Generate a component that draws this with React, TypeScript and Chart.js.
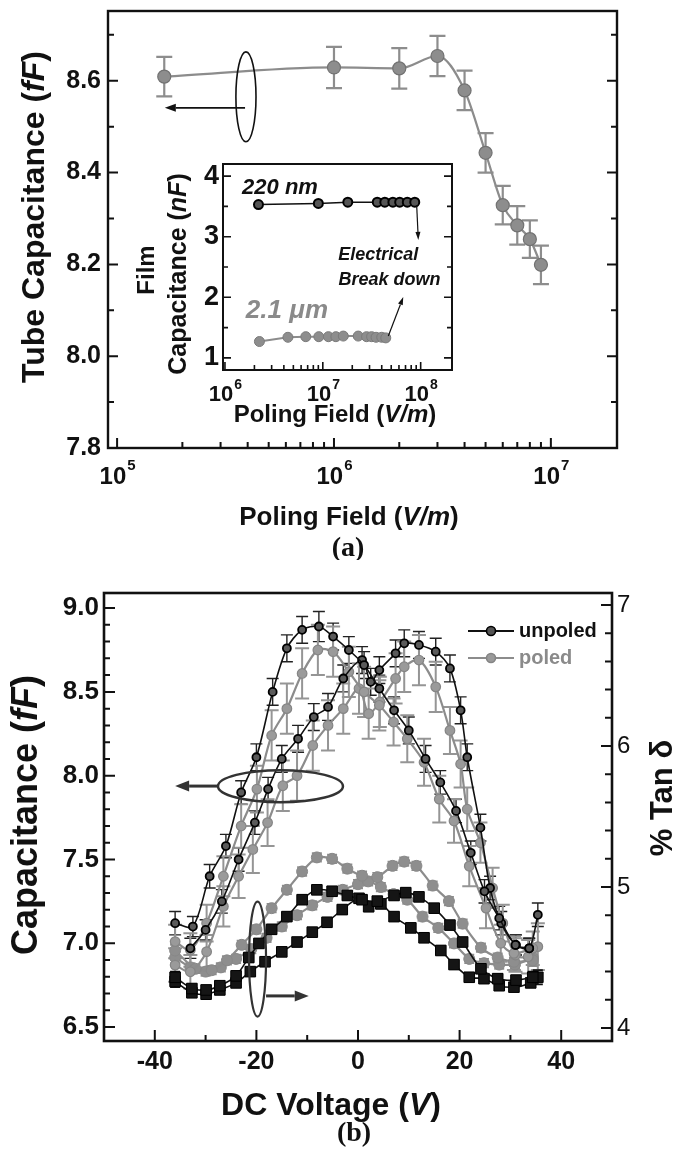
import React, { useEffect, useRef } from 'react';
import { Chart, registerables } from 'chart.js';

Chart.register(...registerables);

const SANS = "'Liberation Sans', Arial, Helvetica, sans-serif";
const SERIF = "'Liberation Serif', 'Times New Roman', Times, serif";
const INK = '#111111';
const GREY = '#8c8c8c';

// ================= Panel (a): tube capacitance vs poling field =================
const A_FIELD = [1.65e5, 1.0e6, 2.0e6, 3.0e6, 4.0e6, 5.0e6, 6.0e6, 7.0e6, 8.0e6, 9.0e6];
const A_CAP = [8.609, 8.629, 8.627, 8.654, 8.579, 8.443, 8.329, 8.285, 8.255, 8.199];
const A_ERR = [0.043, 0.045, 0.044, 0.044, 0.043, 0.043, 0.042, 0.042, 0.041, 0.042];
const A_Y_TICKS = [7.8, 8.0, 8.2, 8.4, 8.6];
const A_Y_LABELS = ['7.8', '8.0', '8.2', '8.4', '8.6'];
const A_Y_MINOR = [7.9, 8.1, 8.3, 8.5, 8.7];
const A_X_TICKS = [1e5, 1e6, 1e7];
const A_X_EXP = ['5', '6', '7'];
const A_X_MINOR = [2e5, 3e5, 4e5, 5e5, 6e5, 7e5, 8e5, 9e5, 2e6, 3e6, 4e6, 5e6, 6e6, 7e6, 8e6, 9e6];

// ================= Inset of (a): film capacitance =================
const IN_FIELD_220 = [2.2e6, 9.0e6, 1.8e7, 3.6e7, 4.3e7, 5.2e7, 6.1e7, 7.3e7, 8.7e7];
const IN_CAP_220 = [3.53, 3.55, 3.57, 3.57, 3.57, 3.57, 3.57, 3.57, 3.57];
const IN_FIELD_21 = [2.25e6, 4.4e6, 6.7e6, 9.1e6, 1.14e7, 1.36e7, 1.62e7, 2.3e7, 2.8e7, 3.15e7, 3.5e7, 4.0e7, 4.4e7];
const IN_CAP_21 = [1.27, 1.34, 1.35, 1.35, 1.35, 1.35, 1.36, 1.36, 1.35, 1.35, 1.34, 1.34, 1.33];
const IN_Y_TICKS = [1, 2, 3, 4];
const IN_Y_LABELS = ['1', '2', '3', '4'];
const IN_Y_MINOR = [1.5, 2.5, 3.5];
const IN_X_TICKS = [1e6, 1e7, 1e8];
const IN_X_EXP = ['6', '7', '8'];
const IN_X_MINOR = [2e6, 3e6, 4e6, 5e6, 6e6, 7e6, 8e6, 9e6, 2e7, 3e7, 4e7, 5e7, 6e7, 7e7, 8e7, 9e7];

// ================= Panel (b): C–V and tan δ =================
// capacitance, unpoled (two sweep branches)
const B_V_U1 = [-36.0, -32.5, -29.2, -26.0, -23.0, -20.0, -16.8, -14.0, -11.0, -7.7, -4.9, -1.8, 1.2, 4.2, 7.1, 10.0, 13.3, 16.2, 19.3, 22.2, 24.9, 27.8, 31.0, 33.7];
const B_C_U1 = [7.12, 7.10, 7.40, 7.58, 7.90, 8.11, 8.50, 8.76, 8.87, 8.89, 8.83, 8.75, 8.66, 8.52, 8.39, 8.27, 8.10, 7.96, 7.79, 7.54, 7.31, 7.15, 6.99, 6.97];
const B_E_U1 = [0.07, 0.06, 0.07, 0.07, 0.07, 0.08, 0.08, 0.08, 0.08, 0.09, 0.08, 0.08, 0.08, 0.08, 0.08, 0.08, 0.08, 0.07, 0.07, 0.07, 0.07, 0.07, 0.06, 0.06];
const B_V_U2 = [-33.0, -30.0, -26.8, -23.5, -20.3, -17.7, -15.0, -11.8, -8.7, -5.9, -2.9, 0.8, 2.5, 4.2, 7.4, 9.1, 12.0, 15.3, 18.1, 20.2, 21.5, 24.1, 26.0, 28.2, 31.1, 33.7, 35.4];
const B_C_U2 = [6.97, 7.08, 7.25, 7.50, 7.72, 7.92, 8.10, 8.22, 8.35, 8.41, 8.58, 8.69, 8.56, 8.63, 8.73, 8.79, 8.78, 8.74, 8.64, 8.39, 8.11, 7.69, 7.33, 7.12, 6.99, 6.97, 7.17];
const B_E_U2 = [0.06, 0.06, 0.07, 0.07, 0.07, 0.07, 0.08, 0.08, 0.08, 0.08, 0.08, 0.08, 0.08, 0.08, 0.08, 0.08, 0.08, 0.08, 0.08, 0.08, 0.08, 0.08, 0.07, 0.07, 0.06, 0.06, 0.07];
// capacitance, poled
const B_V_P1 = [-36.0, -33.0, -29.8, -26.5, -23.0, -19.9, -17.0, -14.0, -11.0, -7.9, -4.9, -1.8, 1.2, 4.2, 7.0, 9.7, 13.0, 16.0, 18.9, 21.9, 25.2, 28.1, 30.7, 34.4];
const B_C_P1 = [7.01, 6.96, 7.12, 7.40, 7.70, 7.92, 8.24, 8.40, 8.61, 8.75, 8.74, 8.62, 8.50, 8.42, 8.32, 8.22, 8.08, 7.86, 7.73, 7.46, 7.21, 7.00, 6.94, 6.97];
const B_E_P1 = [0.10, 0.10, 0.11, 0.12, 0.13, 0.14, 0.15, 0.15, 0.15, 0.15, 0.15, 0.15, 0.15, 0.15, 0.14, 0.14, 0.14, 0.14, 0.13, 0.12, 0.12, 0.11, 0.10, 0.10];
const B_V_P2 = [-36.0, -33.0, -29.8, -26.5, -23.5, -20.7, -17.8, -14.8, -12.0, -8.9, -5.9, -2.9, 0.2, 2.1, 4.3, 7.4, 9.1, 12.0, 15.3, 18.1, 20.2, 21.5, 24.1, 26.5, 28.5, 31.0, 33.5, 35.4];
const B_C_P2 = [6.87, 6.83, 6.95, 7.22, 7.40, 7.56, 7.72, 7.94, 8.00, 8.18, 8.30, 8.40, 8.52, 8.37, 8.44, 8.58, 8.65, 8.69, 8.53, 8.27, 8.07, 7.80, 7.60, 7.33, 7.12, 6.93, 6.92, 6.98];
const B_E_P2 = [0.10, 0.10, 0.10, 0.12, 0.13, 0.14, 0.14, 0.15, 0.15, 0.15, 0.15, 0.15, 0.15, 0.15, 0.15, 0.15, 0.15, 0.15, 0.15, 0.14, 0.14, 0.13, 0.12, 0.12, 0.11, 0.10, 0.10, 0.14];
// % tan delta, unpoled
const B_V_TU1 = [-36.0, -32.7, -29.9, -27.2, -24.0, -21.5, -19.5, -17.0, -14.0, -11.0, -8.1, -5.1, -2.1, 0.8, 3.8, 7.1, 9.4, 12.0, 15.0, 18.1, 20.6, 24.2, 27.5, 31.1, 34.4];
const B_T_TU1 = [4.36, 4.28, 4.27, 4.30, 4.37, 4.50, 4.60, 4.70, 4.79, 4.91, 4.98, 4.97, 4.94, 4.91, 4.90, 4.94, 4.96, 4.93, 4.85, 4.73, 4.61, 4.42, 4.35, 4.34, 4.36];
const B_E_TU1 = [0.04, 0.03, 0.03, 0.03, 0.03, 0.03, 0.03, 0.03, 0.03, 0.03, 0.03, 0.03, 0.03, 0.03, 0.03, 0.03, 0.03, 0.03, 0.03, 0.03, 0.03, 0.03, 0.03, 0.03, 0.04];
const B_V_TU2 = [-36.0, -32.7, -29.9, -27.2, -24.0, -21.2, -18.3, -15.0, -12.0, -9.0, -6.1, -3.1, 0.2, 2.1, 4.5, 7.1, 10.4, 13.0, 16.3, 18.9, 21.9, 24.8, 27.8, 30.7, 34.0, 35.4];
const B_T_TU2 = [4.33, 4.25, 4.24, 4.27, 4.32, 4.40, 4.47, 4.54, 4.61, 4.68, 4.75, 4.84, 4.92, 4.86, 4.88, 4.79, 4.71, 4.64, 4.55, 4.45, 4.36, 4.35, 4.30, 4.29, 4.32, 4.36];
const B_E_TU2 = [0.04, 0.03, 0.03, 0.03, 0.03, 0.03, 0.03, 0.03, 0.03, 0.03, 0.03, 0.03, 0.03, 0.03, 0.03, 0.03, 0.03, 0.03, 0.03, 0.03, 0.03, 0.03, 0.03, 0.03, 0.03, 0.05];
// % tan delta, poled
const B_V_TP1 = [-36.0, -32.0, -28.8, -25.8, -22.9, -20.0, -17.0, -14.0, -11.0, -8.1, -5.1, -2.1, 0.8, 3.8, 6.8, 9.1, 11.5, 14.7, 17.9, 20.6, 24.2, 27.5, 30.7, 34.4];
const B_T_TP1 = [4.55, 4.42, 4.41, 4.48, 4.59, 4.70, 4.85, 4.98, 5.11, 5.21, 5.20, 5.13, 5.08, 5.07, 5.15, 5.18, 5.15, 5.01, 4.90, 4.74, 4.57, 4.50, 4.47, 4.48];
const B_E_TP1 = [0.04, 0.03, 0.03, 0.03, 0.03, 0.03, 0.03, 0.03, 0.03, 0.03, 0.03, 0.03, 0.03, 0.03, 0.03, 0.03, 0.03, 0.03, 0.03, 0.03, 0.03, 0.03, 0.03, 0.04];
const B_V_TP2 = [-36.0, -33.0, -30.0, -27.0, -24.0, -21.0, -18.0, -15.0, -12.0, -9.0, -6.0, -3.0, 0.0, 2.0, 4.5, 7.0, 9.7, 12.7, 15.8, 18.9, 21.9, 24.8, 27.8, 30.9, 34.4];
const B_T_TP2 = [4.50, 4.43, 4.40, 4.43, 4.49, 4.56, 4.64, 4.72, 4.80, 4.87, 4.93, 4.98, 5.02, 5.04, 5.00, 4.95, 4.91, 4.79, 4.71, 4.60, 4.49, 4.46, 4.45, 4.45, 4.50];
const B_E_TP2 = [0.04, 0.03, 0.03, 0.03, 0.03, 0.03, 0.03, 0.03, 0.03, 0.03, 0.03, 0.03, 0.03, 0.03, 0.03, 0.03, 0.03, 0.03, 0.03, 0.03, 0.03, 0.03, 0.03, 0.03, 0.04];

const B_X_TICKS = [-40, -20, 0, 20, 40];
const B_X_LABELS = ['-40', '-20', '0', '20', '40'];
const B_X_MINOR = [-30, -10, 10, 30];
const B_Y_TICKS = [6.5, 7.0, 7.5, 8.0, 8.5, 9.0];
const B_Y_LABELS = ['6.5', '7.0', '7.5', '8.0', '8.5', '9.0'];
const B_Y_MINOR = [6.6, 6.7, 6.8, 6.9, 7.1, 7.2, 7.3, 7.4, 7.6, 7.7, 7.8, 7.9, 8.1, 8.2, 8.3, 8.4, 8.6, 8.7, 8.8, 8.9];
const B_Y2_TICKS = [4, 5, 6, 7];
const B_Y2_LABELS = ['4', '5', '6', '7'];
const B_Y2_MINOR = [4.2, 4.4, 4.6, 4.8, 5.2, 5.4, 5.6, 5.8, 6.2, 6.4, 6.6, 6.8];
const B_SERIES_NAMES = ['unpoled', 'poled'];

// ================= drawing helpers =================
type Seg = { t: string; i?: boolean };

function drawRich(ctx: any, segs: Seg[], x: number, y: number, size: number, opt: any = {}) {
  const weight = opt.weight ?? 'bold';
  const fam = opt.family ?? SANS;
  ctx.save();
  ctx.translate(x, y);
  if (opt.rot) ctx.rotate(opt.rot);
  ctx.fillStyle = opt.color ?? INK;
  ctx.textBaseline = 'middle';
  ctx.textAlign = 'left';
  const fonts = segs.map((s) => `${s.i || opt.italic ? 'italic ' : ''}${weight} ${size}px ${fam}`);
  const ws = segs.map((s, k) => {
    ctx.font = fonts[k];
    return ctx.measureText(s.t).width;
  });
  const total = ws.reduce((p, c) => p + c, 0);
  let cx = opt.align === 'left' ? 0 : opt.align === 'right' ? -total : -total / 2;
  segs.forEach((s, k) => {
    ctx.font = fonts[k];
    ctx.fillText(s.t, cx, 0);
    cx += ws[k];
  });
  ctx.restore();
}

function drawPow(ctx: any, x: number, y: number, exp: string, size: number, sup: number) {
  ctx.save();
  ctx.fillStyle = INK;
  ctx.textBaseline = 'middle';
  ctx.textAlign = 'left';
  ctx.font = `bold ${size}px ${SANS}`;
  const w1 = ctx.measureText('10').width;
  ctx.font = `bold ${sup}px ${SANS}`;
  const w2 = ctx.measureText(exp).width;
  const left = x - (w1 + w2) / 2;
  ctx.font = `bold ${size}px ${SANS}`;
  ctx.fillText('10', left, y);
  ctx.font = `bold ${sup}px ${SANS}`;
  ctx.fillText(exp, left + w1 + 1, y - size * 0.45);
  ctx.restore();
}

function drawFrame(ctx: any, a: any, lw: number) {
  ctx.save();
  ctx.strokeStyle = INK;
  ctx.lineWidth = lw;
  ctx.strokeRect(a.left, a.top, a.right - a.left, a.bottom - a.top);
  ctx.restore();
}

function drawTicks(ctx: any, a: any, scale: any, side: string, values: number[], len: number, lw: number) {
  ctx.save();
  ctx.strokeStyle = INK;
  ctx.lineWidth = lw;
  ctx.beginPath();
  values.forEach((v) => {
    const p = scale.getPixelForValue(v);
    if (side === 'left') { ctx.moveTo(a.left, p); ctx.lineTo(a.left + len, p); }
    if (side === 'right') { ctx.moveTo(a.right, p); ctx.lineTo(a.right - len, p); }
    if (side === 'bottom') { ctx.moveTo(p, a.bottom); ctx.lineTo(p, a.bottom - len); }
  });
  ctx.stroke();
  ctx.restore();
}

function drawArrow(ctx: any, x1: number, y1: number, x2: number, y2: number, lw: number, hl: number, hw: number, color: string) {
  const ang = Math.atan2(y2 - y1, x2 - x1);
  const bx = x2 - Math.cos(ang) * hl;
  const by = y2 - Math.sin(ang) * hl;
  ctx.save();
  ctx.strokeStyle = color;
  ctx.fillStyle = color;
  ctx.lineWidth = lw;
  ctx.beginPath();
  ctx.moveTo(x1, y1);
  ctx.lineTo(bx, by);
  ctx.stroke();
  ctx.beginPath();
  ctx.moveTo(x2, y2);
  ctx.lineTo(bx + (Math.sin(ang) * hw) / 2, by - (Math.cos(ang) * hw) / 2);
  ctx.lineTo(bx - (Math.sin(ang) * hw) / 2, by + (Math.cos(ang) * hw) / 2);
  ctx.closePath();
  ctx.fill();
  ctx.restore();
}

function drawEllipse(ctx: any, x1: number, x2: number, y1: number, y2: number, lw: number, color: string) {
  ctx.save();
  ctx.strokeStyle = color;
  ctx.lineWidth = lw;
  ctx.beginPath();
  ctx.ellipse((x1 + x2) / 2, (y1 + y2) / 2, Math.abs(x2 - x1) / 2, Math.abs(y2 - y1) / 2, 0, 0, Math.PI * 2);
  ctx.stroke();
  ctx.restore();
}

const errorBarPlugin = {
  id: 'errorBars',
  beforeDatasetsDraw(chart: any) {
    const ctx = chart.ctx;
    chart.data.datasets.forEach((ds: any, i: number) => {
      if (!ds.errorBars) return;
      const meta = chart.getDatasetMeta(i);
      const xs = chart.scales[meta.xAxisID];
      const ys = chart.scales[meta.yAxisID];
      ctx.save();
      ctx.strokeStyle = ds.errColor;
      ctx.lineWidth = ds.errWidth;
      ctx.beginPath();
      ds.data.forEach((pt: any, k: number) => {
        const e = ds.errorBars[k];
        const x = xs.getPixelForValue(pt.x);
        const y1 = ys.getPixelForValue(pt.y - e);
        const y2 = ys.getPixelForValue(pt.y + e);
        const c = ds.errCap;
        ctx.moveTo(x, y1); ctx.lineTo(x, y2);
        ctx.moveTo(x - c, y1); ctx.lineTo(x + c, y1);
        ctx.moveTo(x - c, y2); ctx.lineTo(x + c, y2);
      });
      ctx.stroke();
      ctx.restore();
    });
  },
};

const pts = (xs: number[], ys: number[]) => xs.map((x, i) => ({ x, y: ys[i] }));

// ================= chart configs =================
const decorA = {
  id: 'decorA',
  afterDraw(chart: any) {
    const ctx = chart.ctx;
    const a = chart.chartArea;
    const xs = chart.scales.x;
    const ys = chart.scales.y;
    drawFrame(ctx, a, 2.4);
    drawTicks(ctx, a, ys, 'left', A_Y_TICKS, 10, 2);
    drawTicks(ctx, a, ys, 'left', A_Y_MINOR, 6, 2);
    drawTicks(ctx, a, ys, 'right', A_Y_TICKS, 10, 2);
    drawTicks(ctx, a, ys, 'right', A_Y_MINOR, 6, 2);
    drawTicks(ctx, a, xs, 'bottom', A_X_TICKS, 10, 2);
    drawTicks(ctx, a, xs, 'bottom', A_X_MINOR, 6, 2);
    A_Y_TICKS.forEach((v, i) => drawRich(ctx, [{ t: A_Y_LABELS[i] }], a.left - 7, ys.getPixelForValue(v), 25, { align: 'right' }));
    A_X_TICKS.forEach((v, i) => drawPow(ctx, xs.getPixelForValue(v), a.bottom + 29, A_X_EXP[i], 24, 15));
    drawRich(ctx, [{ t: 'Tube Capacitance (' }, { t: 'fF', i: true }, { t: ')' }], 35, 217, 32, { rot: -Math.PI / 2 });
    drawRich(ctx, [{ t: 'Poling Field (' }, { t: 'V/m', i: true }, { t: ')' }], 349, a.bottom + 70, 26);
    // ellipse + arrow pointing to left axis
    drawEllipse(ctx, xs.getPixelForValue(3.53e5), xs.getPixelForValue(4.37e5), ys.getPixelForValue(8.663), ys.getPixelForValue(8.467), 1.6, INK);
    drawArrow(ctx, xs.getPixelForValue(3.89e5), ys.getPixelForValue(8.541), xs.getPixelForValue(1.66e5), ys.getPixelForValue(8.541), 1.6, 11, 8, INK);
    drawRich(ctx, [{ t: '(a)' }], 348, 549, 28, { family: SERIF });
  },
};

function makeA(): any {
  return {
    type: 'line',
    data: {
      datasets: [
        {
          data: pts(A_FIELD, A_CAP),
          borderColor: GREY,
          borderWidth: 2.2,
          pointRadius: 6.5,
          pointBackgroundColor: '#8d8d8d',
          pointBorderColor: '#727272',
          pointBorderWidth: 1.2,
          cubicInterpolationMode: 'monotone',
          errorBars: A_ERR,
          errColor: '#8d8d8d',
          errWidth: 2.2,
          errCap: 8,
        },
      ],
    },
    options: {
      responsive: false,
      maintainAspectRatio: false,
      animation: false,
      events: [],
      layout: { padding: { left: 108, right: 60, top: 11, bottom: 112 } },
      plugins: { legend: { display: false }, tooltip: { enabled: false } },
      scales: {
        x: { type: 'logarithmic', min: 9.08e4, max: 2.018e7, bounds: 'data', display: false },
        y: { type: 'linear', min: 7.8, max: 8.752, bounds: 'data', display: false },
      },
    },
    plugins: [errorBarPlugin, decorA],
  };
}

const decorInset = {
  id: 'decorInset',
  afterDraw(chart: any) {
    const ctx = chart.ctx;
    const a = chart.chartArea;
    const xs = chart.scales.x;
    const ys = chart.scales.y;
    drawFrame(ctx, a, 2);
    drawTicks(ctx, a, ys, 'left', IN_Y_TICKS, 8, 1.6);
    drawTicks(ctx, a, ys, 'left', IN_Y_MINOR, 5, 1.6);
    drawTicks(ctx, a, ys, 'right', IN_Y_TICKS, 8, 1.6);
    drawTicks(ctx, a, ys, 'right', IN_Y_MINOR, 5, 1.6);
    drawTicks(ctx, a, xs, 'bottom', IN_X_TICKS, 8, 1.6);
    drawTicks(ctx, a, xs, 'bottom', IN_X_MINOR, 5, 1.6);
    IN_Y_TICKS.forEach((v, i) => drawRich(ctx, [{ t: IN_Y_LABELS[i] }], a.left - 4, ys.getPixelForValue(v), 27, { align: 'right' }));
    IN_X_TICKS.forEach((v, i) => drawPow(ctx, xs.getPixelForValue(v), a.bottom + 25, IN_X_EXP[i], 22, 14));
    drawRich(ctx, [{ t: 'Film' }], 17, 120, 24, { rot: -Math.PI / 2 });
    drawRich(ctx, [{ t: 'Capacitance (' }, { t: 'nF', i: true }, { t: ')' }], 49, 124, 25, { rot: -Math.PI / 2 });
    drawRich(ctx, [{ t: 'Poling Field (' }, { t: 'V/m', i: true }, { t: ')' }], 205, a.bottom + 45, 24);
    drawRich(ctx, [{ t: '220 nm' }], xs.getPixelForValue(3.65e6), ys.getPixelForValue(3.804), 22, { italic: true });
    drawRich(ctx, [{ t: '2.1 μm' }], xs.getPixelForValue(4.3e6), ys.getPixelForValue(1.774), 26, { italic: true, color: '#8a8a8a' });
    drawRich(ctx, [{ t: 'Electrical' }], xs.getPixelForValue(3.69e7), ys.getPixelForValue(2.698), 18, { italic: true });
    drawRich(ctx, [{ t: 'Break down' }], xs.getPixelForValue(4.8e7), ys.getPixelForValue(2.285), 18, { italic: true });
    drawArrow(ctx, xs.getPixelForValue(9.1e7), ys.getPixelForValue(3.523), xs.getPixelForValue(9.46e7), ys.getPixelForValue(2.946), 1.2, 8, 5, INK);
    drawArrow(ctx, xs.getPixelForValue(4.67e7), ys.getPixelForValue(1.361), xs.getPixelForValue(6.64e7), ys.getPixelForValue(2.005), 1.2, 8, 5, INK);
  },
};

function makeInset(): any {
  return {
    type: 'line',
    data: {
      datasets: [
        {
          data: pts(IN_FIELD_220, IN_CAP_220),
          borderColor: INK,
          borderWidth: 1.5,
          pointRadius: 4.5,
          pointBackgroundColor: '#555555',
          pointBorderColor: '#000000',
          pointBorderWidth: 2,
          tension: 0,
        },
        {
          data: pts(IN_FIELD_21, IN_CAP_21),
          borderColor: GREY,
          borderWidth: 2,
          pointRadius: 5,
          pointBackgroundColor: '#8d8d8d',
          pointBorderColor: '#7a7a7a',
          pointBorderWidth: 1,
          tension: 0,
        },
      ],
    },
    options: {
      responsive: false,
      maintainAspectRatio: false,
      animation: false,
      events: [],
      layout: { padding: { left: 93, right: 18, top: 14, bottom: 70 } },
      plugins: { legend: { display: false }, tooltip: { enabled: false } },
      scales: {
        x: { type: 'logarithmic', min: 9.55e5, max: 2.09e8, bounds: 'data', display: false },
        y: { type: 'linear', min: 0.8, max: 4.2, bounds: 'data', display: false },
      },
    },
    plugins: [decorInset],
  };
}

const decorB = {
  id: 'decorB',
  afterDraw(chart: any) {
    const ctx = chart.ctx;
    const a = chart.chartArea;
    const xs = chart.scales.x;
    const ys = chart.scales.y;
    const y2 = chart.scales.y2;
    drawFrame(ctx, a, 2.6);
    drawTicks(ctx, a, ys, 'left', B_Y_TICKS, 11, 2);
    drawTicks(ctx, a, ys, 'left', B_Y_MINOR, 6, 2);
    drawTicks(ctx, a, y2, 'right', B_Y2_TICKS, 11, 2);
    drawTicks(ctx, a, y2, 'right', B_Y2_MINOR, 7, 2);
    drawTicks(ctx, a, xs, 'bottom', B_X_TICKS, 11, 2);
    drawTicks(ctx, a, xs, 'bottom', B_X_MINOR, 6, 2);
    B_Y_TICKS.forEach((v, i) => drawRich(ctx, [{ t: B_Y_LABELS[i] }], a.left - 5, ys.getPixelForValue(v), 26, { align: 'right' }));
    B_Y2_TICKS.forEach((v, i) => drawRich(ctx, [{ t: B_Y2_LABELS[i] }], a.right + 5, y2.getPixelForValue(v), 24, { align: 'left', weight: 'normal' }));
    B_X_TICKS.forEach((v, i) => drawRich(ctx, [{ t: B_X_LABELS[i] }], xs.getPixelForValue(v), a.bottom + 21, 25));
    drawRich(ctx, [{ t: 'Capacitance (' }, { t: 'fF', i: true }, { t: ')' }], 27, 255, 36, { rot: -Math.PI / 2 });
    drawRich(ctx, [{ t: '% Tan δ' }], 663, 238, 31, { rot: -Math.PI / 2 });
    drawRich(ctx, [{ t: 'DC Voltage (' }, { t: 'V', i: true }, { t: ')' }], 331, a.bottom + 65, 32);
    // annotations
    drawEllipse(ctx, xs.getPixelForValue(-27.56), xs.getPixelForValue(-2.96), ys.getPixelForValue(8.033), ys.getPixelForValue(7.842), 2.5, '#333333');
    drawArrow(ctx, xs.getPixelForValue(-27.56), ys.getPixelForValue(7.938), xs.getPixelForValue(-36.0), ys.getPixelForValue(7.938), 3, 14, 11, '#333333');
    drawEllipse(ctx, xs.getPixelForValue(-21.45), xs.getPixelForValue(-18.1), ys.getPixelForValue(7.249), ys.getPixelForValue(6.563), 2.2, '#333333');
    drawArrow(ctx, xs.getPixelForValue(-18.1), ys.getPixelForValue(6.686), xs.getPixelForValue(-9.7), ys.getPixelForValue(6.686), 3, 14, 11, '#333333');
    // legend
    const lx = a.right - 144;
    const ly = a.top + 38;
    const legend = [
      { name: B_SERIES_NAMES[0], line: INK, fill: '#555555', stroke: '#000000', text: INK },
      { name: B_SERIES_NAMES[1], line: GREY, fill: '#9a9a9a', stroke: '#858585', text: '#8a8a8a' },
    ];
    legend.forEach((l, k) => {
      const yy = ly + k * 27;
      ctx.save();
      ctx.strokeStyle = l.line;
      ctx.lineWidth = 2;
      ctx.beginPath();
      ctx.moveTo(lx, yy);
      ctx.lineTo(lx + 46, yy);
      ctx.stroke();
      ctx.fillStyle = l.fill;
      ctx.strokeStyle = l.stroke;
      ctx.lineWidth = 1.6;
      ctx.beginPath();
      ctx.arc(lx + 23, yy, 4.5, 0, Math.PI * 2);
      ctx.fill();
      ctx.stroke();
      ctx.restore();
      drawRich(ctx, [{ t: l.name }], lx + 51, yy, 20, { align: 'left', color: l.text });
    });
    drawRich(ctx, [{ t: '(b)' }], 354, 574, 28, { family: SERIF });
  },
};

function capSet(v: number[], c: number[], e: number[], black: boolean): any {
  return {
    data: pts(v, c),
    yAxisID: 'y',
    borderColor: black ? INK : GREY,
    borderWidth: black ? 1.6 : 2.2,
    pointRadius: black ? 4 : 4.8,
    pointStyle: 'circle',
    pointBackgroundColor: black ? '#5a5a5a' : '#9a9a9a',
    pointBorderColor: black ? '#000000' : '#858585',
    pointBorderWidth: black ? 1.8 : 1.2,
    tension: 0.3,
    errorBars: e,
    errColor: black ? '#222222' : '#959595',
    errWidth: black ? 1.4 : 2,
    errCap: black ? 6 : 7,
  };
}

function tanSet(v: number[], t: number[], e: number[], black: boolean): any {
  return {
    data: pts(v, t),
    yAxisID: 'y2',
    borderColor: black ? INK : GREY,
    borderWidth: black ? 1.6 : 2.2,
    pointRadius: black ? 7.5 : 5.5,
    pointStyle: black ? 'rect' : 'circle',
    pointBackgroundColor: black ? '#151515' : '#8e8e8e',
    pointBorderColor: black ? '#000000' : '#888888',
    pointBorderWidth: 1,
    tension: 0.25,
    errorBars: e,
    errColor: black ? '#111111' : '#8e8e8e',
    errWidth: 1.8,
    errCap: 5,
  };
}

function makeB(): any {
  return {
    type: 'line',
    data: {
      datasets: [
        capSet(B_V_U1, B_C_U1, B_E_U1, true),
        capSet(B_V_U2, B_C_U2, B_E_U2, true),
        capSet(B_V_P1, B_C_P1, B_E_P1, false),
        capSet(B_V_P2, B_C_P2, B_E_P2, false),
        tanSet(B_V_TU1, B_T_TU1, B_E_TU1, true),
        tanSet(B_V_TU2, B_T_TU2, B_E_TU2, true),
        tanSet(B_V_TP1, B_T_TP1, B_E_TP1, false),
        tanSet(B_V_TP2, B_T_TP2, B_E_TP2, false),
      ],
    },
    options: {
      responsive: false,
      maintainAspectRatio: false,
      animation: false,
      events: [],
      layout: { padding: { left: 104, right: 65, top: 33, bottom: 122 } },
      plugins: { legend: { display: false }, tooltip: { enabled: false } },
      scales: {
        x: { type: 'linear', min: -50, max: 50, bounds: 'data', display: false },
        y: { type: 'linear', position: 'left', min: 6.417, max: 9.09, bounds: 'data', display: false },
        y2: { type: 'linear', position: 'right', min: 3.908, max: 7.085, bounds: 'data', display: false },
      },
    },
    plugins: [errorBarPlugin, decorB],
  };
}

function ChartCanvas(props: { left: number; top: number; width: number; height: number; make: () => any }) {
  const ref = useRef<HTMLCanvasElement | null>(null);
  useEffect(() => {
    if (!ref.current) return;
    const chart = new Chart(ref.current, props.make());
    return () => chart.destroy();
  }, []);
  return (
    <canvas
      ref={ref}
      width={props.width}
      height={props.height}
      style={{ position: 'absolute', left: props.left, top: props.top, width: props.width, height: props.height }}
    />
  );
}

export default function App() {
  useEffect(() => {
    document.body.style.margin = '0';
    document.body.style.background = '#ffffff';
  }, []);
  return (
    <div style={{ position: 'relative', width: 677, height: 1163, background: '#ffffff', overflow: 'hidden' }}>
      <ChartCanvas left={0} top={0} width={677} height={560} make={makeA} />
      <ChartCanvas left={130} top={150} width={340} height={290} make={makeInset} />
      <ChartCanvas left={0} top={560} width={677} height={603} make={makeB} />
    </div>
  );
}
